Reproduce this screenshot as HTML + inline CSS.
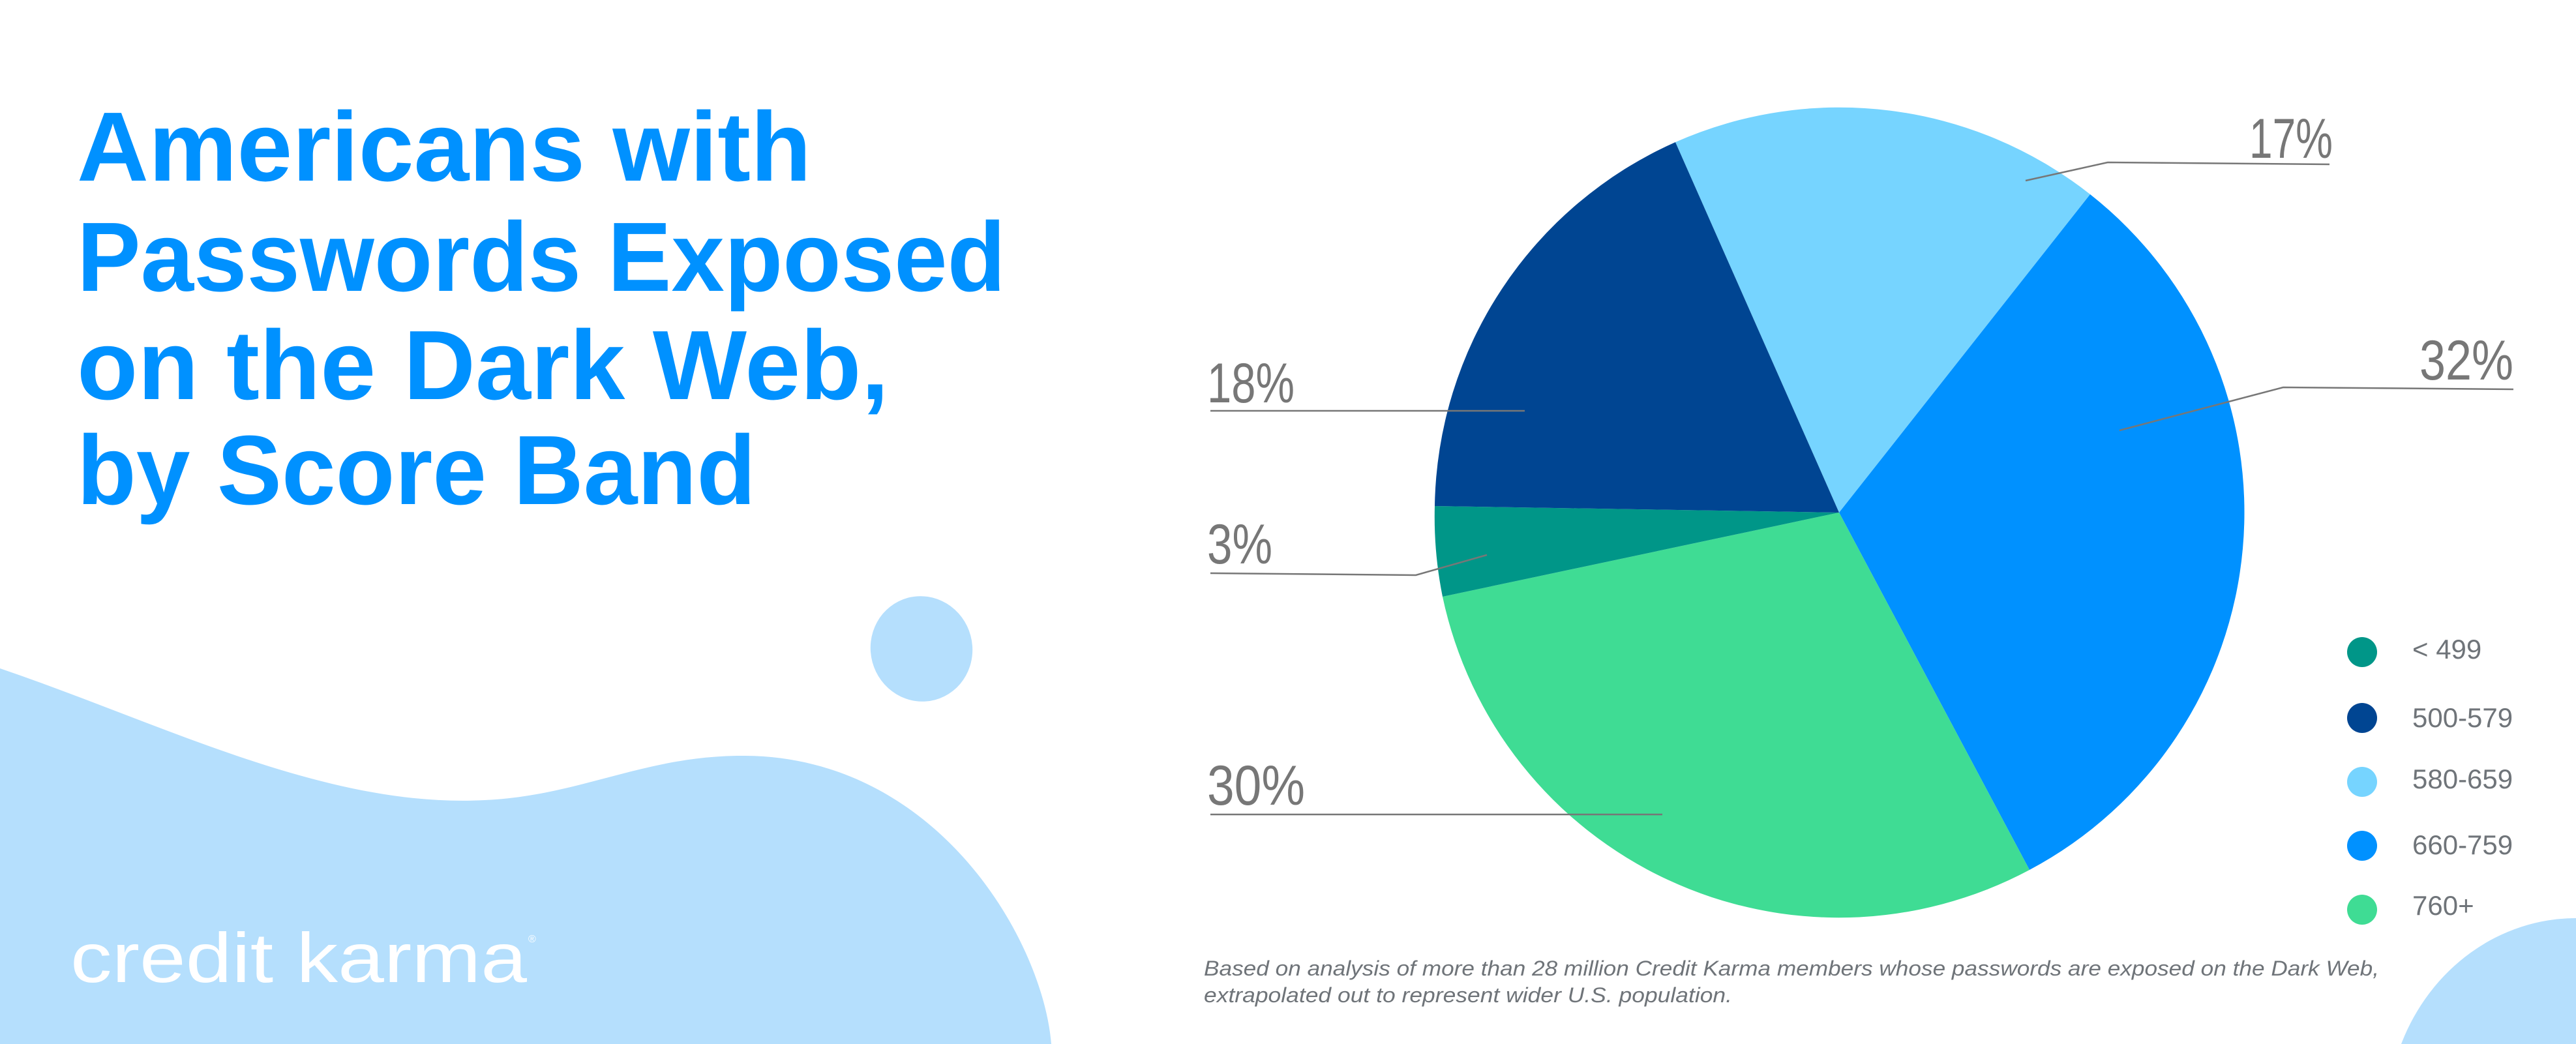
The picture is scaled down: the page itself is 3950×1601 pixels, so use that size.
<!DOCTYPE html>
<html><head><meta charset="utf-8"><style>html,body{margin:0;padding:0;background:#fff;width:3950px;height:1601px;overflow:hidden}svg{display:block}</style></head>
<body>
<svg width="3950" height="1601" viewBox="0 0 3950 1601" xmlns="http://www.w3.org/2000/svg">
<rect width="3950" height="1601" fill="#fff"/>
<path d="M0,1025 C250,1110 500,1240 743,1227 C900,1220 1000,1150 1171,1160 C1450,1180 1600,1450 1612,1601 L0,1601 Z" fill="#B5DFFD"/>
<ellipse cx="1413" cy="995" rx="78" ry="81" fill="#B5DFFD" transform="rotate(-15 1413 995)"/>
<path d="M3682,1601 A290,312 0 0 1 3950,1408 L3950,1601 Z" fill="#B5DFFD"/>
<g font-family="Liberation Sans, sans-serif" font-weight="bold" font-size="151" fill="#0091FF">
<text x="118" y="277" textLength="1126" lengthAdjust="spacingAndGlyphs">Americans with</text>
<text x="118" y="446" textLength="1424" lengthAdjust="spacingAndGlyphs">Passwords Exposed</text>
<text x="118" y="612" textLength="1245" lengthAdjust="spacingAndGlyphs">on the Dark Web,</text>
<text x="118" y="773" textLength="1041" lengthAdjust="spacingAndGlyphs">by Score Band</text>
</g>
<text x="108" y="1506" font-family="Liberation Sans, sans-serif" font-size="108" fill="#fff" textLength="700" lengthAdjust="spacingAndGlyphs">credit karma</text>
<text x="810" y="1445" font-family="Liberation Sans, sans-serif" font-size="16" fill="#fff">®</text>
<g>
<path d="M2820,786 L2569,218 A621,621 0 0 1 3205,298 Z" fill="#76D4FF"/>
<path d="M2820,786 L3205,298 A621,621 0 0 1 3112,1334 Z" fill="#0091FF"/>
<path d="M2820,786 L3112,1334 A621,621 0 0 1 2212,915 Z" fill="#3FDC94"/>
<path d="M2820,786 L2212,915 A621,621 0 0 1 2200,776 Z" fill="#009688"/>
<path d="M2820,786 L2200,776 A621,621 0 0 1 2569,218 Z" fill="#004592"/>
</g>
<g stroke="#777" stroke-width="2.5" fill="none">
<polyline points="3106,277 3232,249 3572,252"/>
<polyline points="3250,660 3501,594 3854,597"/>
<polyline points="1856,630 2338,630"/>
<polyline points="1856,879 2171,882 2280,851"/>
<polyline points="1856,1249 2549,1249"/>
</g>
<g font-family="Liberation Sans, sans-serif" font-size="86" fill="#777">
<text x="3449" y="242" textLength="128" lengthAdjust="spacingAndGlyphs">17%</text>
<text x="3710" y="582" textLength="144" lengthAdjust="spacingAndGlyphs">32%</text>
<text x="1851" y="617" textLength="134" lengthAdjust="spacingAndGlyphs">18%</text>
<text x="1851" y="864" textLength="100" lengthAdjust="spacingAndGlyphs">3%</text>
<text x="1851" y="1234" textLength="150" lengthAdjust="spacingAndGlyphs">30%</text>
</g>
<circle cx="3622" cy="1000" r="23" fill="#009688"/>
<circle cx="3622" cy="1101" r="23" fill="#004592"/>
<circle cx="3622" cy="1199" r="23" fill="#76D4FF"/>
<circle cx="3622" cy="1297" r="23" fill="#0091FF"/>
<circle cx="3622" cy="1395" r="23" fill="#3FDC94"/>
<g font-family="Liberation Sans, sans-serif" font-size="42" fill="#6f7479">
<text x="3699" y="1010">&lt; 499</text>
<text x="3699" y="1115">500-579</text>
<text x="3699" y="1209">580-659</text>
<text x="3699" y="1310">660-759</text>
<text x="3699" y="1403">760+</text>
</g>
<g font-family="Liberation Sans, sans-serif" font-style="italic" font-size="32" fill="#6f7479">
<text x="1846" y="1496" textLength="1802" lengthAdjust="spacingAndGlyphs">Based on analysis of more than 28 million Credit Karma members whose passwords are exposed on the Dark Web,</text>
<text x="1846" y="1537" textLength="810" lengthAdjust="spacingAndGlyphs">extrapolated out to represent wider U.S. population.</text>
</g>
</svg>
</body></html>
